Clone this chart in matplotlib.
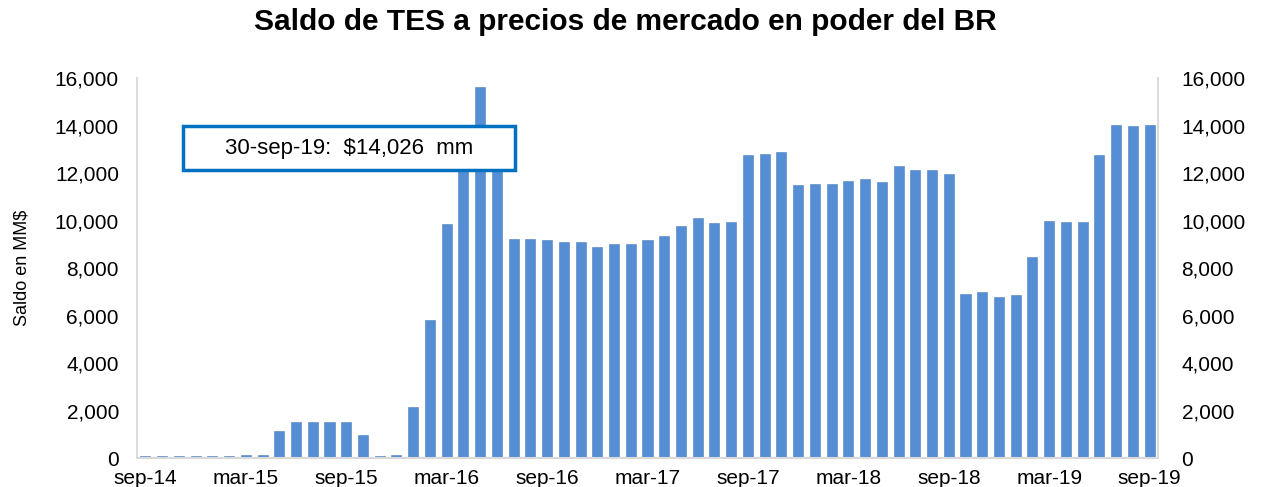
import matplotlib
matplotlib.use("Agg")
import matplotlib.pyplot as plt
from matplotlib.patches import Rectangle
from matplotlib.ticker import FuncFormatter, MultipleLocator
import pandas as pd

plt.rcParams['font.family'] = ['Liberation Sans', 'DejaVu Sans']

title = "Saldo de TES a precios de mercado en poder del BR"
ylabel = "Saldo en MM$"
annotation = "30-sep-19:  $14,026  mm"

months = pd.date_range("2014-09-01", "2019-09-01", freq="MS")
values = [
    80, 80, 80, 80, 80, 80, 150, 150, 1130, 1530,
    1530, 1530, 1530, 1000, 80, 150, 2170, 5820, 9880, 12600,
    15650, 12500, 9235, 9235, 9180, 9120, 9120, 8880, 9010, 9010,
    9180, 9350, 9770, 10130, 9890, 9935, 12780, 12825, 12910, 11495,
    11535, 11535, 11660, 11745, 11620, 12320, 12140, 12140, 11960, 6920,
    6990, 6805, 6860, 8460, 10005, 9935, 9935, 12780, 14035, 13980,
    14026,
]
tick_labels = ["sep-14", "mar-15", "sep-15", "mar-16", "sep-16", "mar-17",
               "sep-17", "mar-18", "sep-18", "mar-19", "sep-19"]

W, H = 1262, 487
fig = plt.figure(figsize=(W / 100, H / 100), dpi=100)
ax = fig.add_axes([137 / W, 1 - 458.3 / H, (1158 - 137) / W, (458.3 - 78.3) / H])

x = list(range(len(months)))
ax.bar(x, values, width=0.6, color="#558ED5", edgecolor="#4F81BD", linewidth=0.4, zorder=2)

ax.set_xlim(-0.5, len(months) - 0.5)
ax.set_ylim(0, 16000)
ax.yaxis.set_major_locator(MultipleLocator(2000))
fmt = FuncFormatter(lambda v, p: f"{int(v):,}")
ax.yaxis.set_major_formatter(fmt)

ax.set_xticks(x[::6])
ax.set_xticklabels(tick_labels)

ax.spines["top"].set_visible(False)
for s in ["left", "right"]:
    ax.spines[s].set_color("#D9D9D9")
    ax.spines[s].set_linewidth(1.3)
ax.spines["bottom"].set_color("#D9D9D9")
ax.spines["bottom"].set_linewidth(1.5)

ax.tick_params(axis="both", length=0, labelsize=15, colors="black")
ax.tick_params(axis="y", pad=13)
ax.tick_params(axis="x", pad=8)

ax2 = ax.twinx()
ax2.set_ylim(ax.get_ylim())
ax2.yaxis.set_major_locator(MultipleLocator(2000))
ax2.yaxis.set_major_formatter(fmt)
ax2.tick_params(axis="y", length=0, labelsize=15, pad=17)
for s in ax2.spines.values():
    s.set_visible(False)

ax.set_ylabel(ylabel, fontsize=13, labelpad=6)
ax.yaxis.set_label_coords(-0.104, 0.5)

fig.text(0.5 * (233 + 1018) / W, 1 - 22 / H, title, fontsize=21.5, fontweight="bold",
         ha="center", va="center")

bx0, by0, bx1, by1 = 183, 126, 515, 170
rect = Rectangle((bx0 / W, 1 - by1 / H), (bx1 - bx0) / W, (by1 - by0) / H,
                 transform=fig.transFigure, facecolor="white", edgecolor="#0070C0",
                 linewidth=2.5, zorder=10)
ax.add_patch(rect)
ax.text((bx0 + bx1) / 2 / W, 1 - (by0 + by1) / 2 / H, annotation, transform=fig.transFigure,
        fontsize=16, ha="center", va="center", zorder=11)

fig.savefig("out.png", dpi=100)
